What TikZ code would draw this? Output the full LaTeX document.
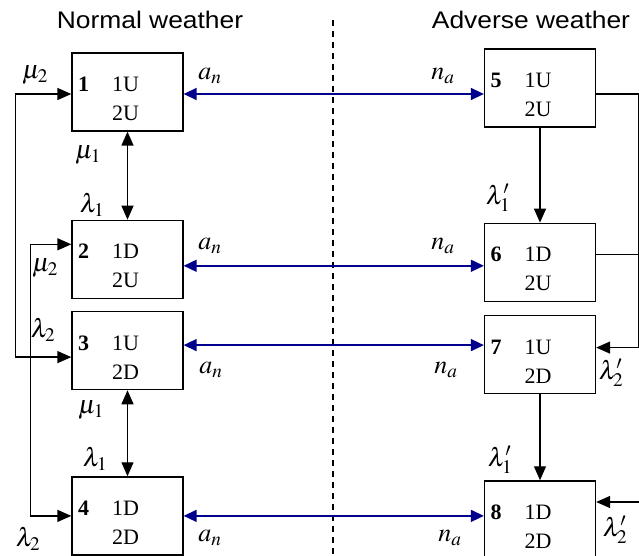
\documentclass[tikz,border=0pt]{standalone}
\usepackage{mathptmx}
\usepackage{fontspec}
\setmainfont{Liberation Serif}
\newfontfamily\headfont[FakeStretch=1.1]{Liberation Sans}
\usepackage{xcolor}
\usepackage{tikz}
\usetikzlibrary{arrows.meta, positioning}

\definecolor{linkblue}{RGB}{0,0,140}

\begin{document}
\begin{tikzpicture}[
    x=1pt, y=-1pt,
    statebox/.style={
        rectangle,
        draw,
        line width=1.3pt,
        minimum width=111pt,
        minimum height=78pt,
        text width=99pt,
        inner xsep=6pt,
        align=left,
        font=\fontsize{22}{29}\selectfont
    },
    head/.style={
        font=\headfont\fontsize{24}{28}\selectfont
    },
    rate/.style={
        inner sep=0pt,
        font=\fontsize{26}{30}\selectfont
    },
    arrowline/.style={
        -{Triangle[length=14pt, width=12pt]},
        line width=1.3pt
    },
    twoway/.style={
        {Triangle[length=14pt, width=12pt]}-{Triangle[length=14pt, width=12pt]},
        line width=1.3pt
    },
    link/.style={
        {Triangle[length=13pt, width=12pt]}-{Triangle[length=13pt, width=12pt]},
        line width=1.5pt,
        draw=linkblue
    }
]
\useasboundingbox (0,0) rectangle (639,556);

% === Headers and divider ===
\node[head] (normal) at (150,20) {Normal weather};
\node[head] (adverse) at (531,20) {Adverse weather};
\coordinate (divtop) at (333,20);
\coordinate (divbot) at (333,556);
\draw[line width=1.2pt, dash pattern=on 6pt off 5pt] (divtop) -- (divbot);

% === Normal weather states ===
\node[statebox] (s1) at (127.5,92) {\rule{0pt}{28.5pt}\textbf{1}\hspace{23pt}1U\\\hphantom{\textbf{1}}\hspace{23pt}2U};
\node[statebox, below=88pt of s1] (s2) {\rule{0pt}{28.5pt}\textbf{2}\hspace{23pt}1D\\\hphantom{\textbf{2}}\hspace{23pt}2U};
\node[statebox, below=12pt of s2] (s3) {\rule{0pt}{28.5pt}\textbf{3}\hspace{23pt}1U\\\hphantom{\textbf{3}}\hspace{23pt}2D};
\node[statebox, below=86pt of s3] (s4) {\rule{0pt}{28.5pt}\textbf{4}\hspace{23pt}1D\\\hphantom{\textbf{4}}\hspace{23pt}2D};

% === Adverse weather states ===
\node[statebox] (s5) at (540,88) {\rule{0pt}{28.5pt}\textbf{5}\hspace{23pt}1U\\\hphantom{\textbf{5}}\hspace{23pt}2U};
\node[statebox, below=95pt of s5] (s6) {\rule{0pt}{28.5pt}\textbf{6}\hspace{23pt}1D\\\hphantom{\textbf{6}}\hspace{23pt}2U};
\node[statebox, below=13pt of s6] (s7) {\rule{0pt}{28.5pt}\textbf{7}\hspace{23pt}1U\\\hphantom{\textbf{7}}\hspace{23pt}2D};
\node[statebox, below=86pt of s7] (s8) {\rule{0pt}{28.5pt}\textbf{8}\hspace{23pt}1D\\\hphantom{\textbf{8}}\hspace{23pt}2D};

% === Weather changes (blue) ===
\draw[link] ([yshift=-2pt]s1.east) coordinate (r1) -- (r1 -| s5.west);
\draw[link] ([yshift=-6.5pt]s2.east) coordinate (r2) -- (r2 -| s6.west);
\draw[link] ([yshift=5.5pt]s3.east) coordinate (r3) -- (r3 -| s7.west);
\draw[link] (s4.east) -- (s4.east -| s8.west);

% === Normal weather transitions ===
\draw[twoway] (s1) -- (s2);
\draw[twoway] (s3) -- (s4);
\draw[twoway] ([yshift=-2pt]s1.west) -- ++(-56pt,0) |- ([yshift=-6.5pt]s3.west);
\draw[twoway] ([yshift=15pt]s2.west) -- ++(-41pt,0) |- (s4.west);

% === Adverse weather transitions ===
\draw[arrowline] (s5) -- (s6);
\draw[arrowline] (s7) -- (s8);
\draw[arrowline] ([yshift=-6pt]s5.east) -- ++(42.5pt,0) coordinate (rturn) |- ([yshift=7pt]s7.east);
\draw[line width=1.3pt] ([yshift=7.5pt]s6.east) coordinate (b6) -- (b6 -| rturn);
\coordinate (eightin) at (641,502);
\draw[arrowline] (eightin) -- (eightin -| s8.east);

% === Rate labels ===
\node[rate] (m2a) at (35,75) {$\mu_2$};
\node[rate] (m1a) at (88,155) {$\mu_1$};
\node[rate] (l1a) at (92,205) {$\lambda_1$};
\node[rate] (m2b) at (45,268) {$\mu_2$};
\node[rate] (l2a) at (43,330) {$\lambda_2$};
\node[rate] (m1b) at (91,410) {$\mu_1$};
\node[rate] (l1b) at (95,459) {$\lambda_1$};
\node[rate] (l2b) at (28,539) {$\lambda_2$};

\node[rate] (an1) at (210,76) {$a_n$};
\node[rate] (na1) at (443,76) {$n_a$};
\node[rate] (an2) at (210,246) {$a_n$};
\node[rate] (na2) at (443,246) {$n_a$};
\node[rate] (an3) at (211,370) {$a_n$};
\node[rate] (na3) at (446,370) {$n_a$};
\node[rate] (an4) at (210,538) {$a_n$};
\node[rate] (na4) at (450,538) {$n_a$};

\node[rate] (l1c) at (498,198) {$\lambda'_1$};
\node[rate] (l2c) at (611,373) {$\lambda'_2$};
\node[rate] (l1d) at (500,460) {$\lambda'_1$};
\node[rate] (l2d) at (615,530) {$\lambda'_2$};

\end{tikzpicture}
\end{document}
